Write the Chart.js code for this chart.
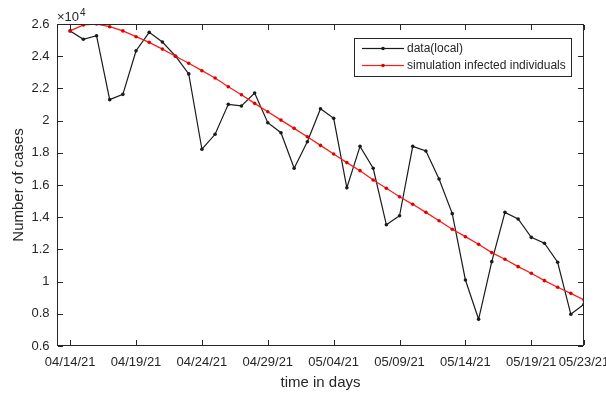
<!DOCTYPE html>
<html>
<head>
<meta charset="utf-8">
<script src="https://cdn.jsdelivr.net/npm/chart.js@4/dist/chart.umd.min.js"></script>
<style>
  html, body { margin: 0; padding: 0; background: #fff; }
  #wrap { width: 606px; height: 394px; }
</style>
</head>
<body>
<div id="wrap"><canvas id="GraficoCasos" width="606" height="394"></canvas></div>
<script>
// datos (casos diarios)
const fechas = [
  '04/14/21', '04/15/21', '04/16/21', '04/17/21', '04/18/21', '04/19/21', '04/20/21', '04/21/21',
  '04/22/21', '04/23/21', '04/24/21', '04/25/21', '04/26/21', '04/27/21', '04/28/21', '04/29/21',
  '04/30/21', '05/01/21', '05/02/21', '05/03/21', '05/04/21', '05/05/21', '05/06/21', '05/07/21',
  '05/08/21', '05/09/21', '05/10/21', '05/11/21', '05/12/21', '05/13/21', '05/14/21', '05/15/21',
  '05/16/21', '05/17/21', '05/18/21', '05/19/21', '05/20/21', '05/21/21', '05/22/21', '05/23/21'
];
const dataLocal = [
  25570, 25050, 25270, 21300, 21630, 24340, 25480, 24880, 24000, 22900,
  18220, 19150, 21010, 20910, 21710, 19870, 19250, 17040, 18690, 20740,
  20140, 15830, 18400, 17040, 13530, 14090, 18400, 18110, 16370, 14220,
  10100, 7660, 11240, 14300, 13890, 12750, 12380, 11200, 7970, 8590
];
const simInfectados = [
  25570, 25940, 26000, 25830, 25570, 25210, 24860, 24440, 24000, 23560,
  23100, 22650, 22100, 21610, 21070, 20550, 20030, 19520, 19000, 18460,
  17930, 17390, 16890, 16310, 15800, 15270, 14800, 14300, 13780, 13250,
  12790, 12320, 11800, 11390, 10930, 10520, 10060, 9650, 9270, 8860
];
const xTickDias = [0, 5, 10, 15, 20, 25, 30, 35, 39];
const yTicks = [6000, 8000, 10000, 12000, 14000, 16000, 18000, 20000, 22000, 24000, 26000];

const ejeColor = '#262626';
const fuente = "'Liberation Sans', Arial, sans-serif";

// leyenda, exponente y caja de ejes con marcas hacia adentro (estilo MATLAB)
const cajaEjes = {
  id: 'cajaEjes',
  afterDraw(chart) {
    const {ctx, chartArea: a} = chart;
    const x = chart.scales.x, y = chart.scales.y;
    ctx.save();

    // exponente x10^4
    ctx.fillStyle = ejeColor;
    ctx.textBaseline = 'alphabetic';
    ctx.textAlign = 'left';
    ctx.font = '13px ' + fuente;
    ctx.fillText('\u00d710', a.left, a.top - 3.5);
    const w = ctx.measureText('\u00d710').width;
    ctx.font = '10px ' + fuente;
    ctx.fillText('4', a.left + w + 1, a.top - 8.5);

    // leyenda dentro del area
    const bx = 354, by = 38, bw = 218, bh = 39;
    ctx.fillStyle = '#fff';
    ctx.fillRect(bx, by, bw, bh);
    ctx.fillStyle = ejeColor;
    ctx.fillRect(bx, by, bw, 1);
    ctx.fillRect(bx, by + bh - 1, bw, 1);
    ctx.fillRect(bx, by, 1, bh);
    ctx.fillRect(bx + bw - 1, by, 1, bh);
    ctx.font = '12px ' + fuente;
    ctx.textBaseline = 'middle';
    chart.data.datasets.forEach((ds, i) => {
      const yy = 48.5 + i * 17;
      ctx.fillStyle = ds.borderColor;
      ctx.fillRect(362, yy - 0.6, 42, 1.2);
      ctx.fillStyle = ds.pointBackgroundColor;
      ctx.beginPath();
      ctx.arc(383, yy, ds.pointRadius, 0, Math.PI * 2);
      ctx.fill();
      ctx.fillStyle = ejeColor;
      ctx.fillText(ds.label, 407, yy);
    });

    // caja y marcas
    const L = Math.round(a.left), R = Math.round(a.right) - 1;
    const T = Math.round(a.top), B = Math.round(a.bottom) - 1;
    const tl = 5;
    ctx.fillStyle = ejeColor;
    ctx.fillRect(L, T, R - L + 1, 1);
    ctx.fillRect(L, B, R - L + 1, 1);
    ctx.fillRect(L, T, 1, B - T + 1);
    ctx.fillRect(R, T, 1, B - T + 1);
    xTickDias.forEach(v => {
      const px = Math.round(x.getPixelForValue(v));
      ctx.fillRect(px, B - tl, 1, tl);
      ctx.fillRect(px, T + 1, 1, tl);
    });
    yTicks.forEach(v => {
      const py = Math.round(y.getPixelForValue(v));
      ctx.fillRect(L + 1, py, tl, 1);
      ctx.fillRect(R - tl, py, tl, 1);
    });
    ctx.getImageData(L, T, 1, 1); // fuerza el pintado
    ctx.restore();
  }
};

const GraficoCasos = new Chart(document.getElementById('GraficoCasos'), {
  type: 'line',
  data: {
    datasets: [{
      label: 'data(local)',
      data: dataLocal.map((v, i) => ({x: i, y: v})),
      borderColor: '#1a1a1a',
      backgroundColor: '#1a1a1a',
      pointBackgroundColor: '#1a1a1a',
      pointBorderWidth: 0,
      pointRadius: 1.8,
      borderWidth: 1.2,
      tension: 0,
      order: 1
    }, {
      label: 'simulation infected individuals',
      data: simInfectados.map((v, i) => ({x: i, y: v})),
      borderColor: '#ff1a1a',
      backgroundColor: '#ff1a1a',
      pointBackgroundColor: '#e00000',
      pointBorderWidth: 0,
      pointRadius: 1.8,
      borderWidth: 1.3,
      tension: 0,
      order: 0
    }]
  },
  options: {
    responsive: false,
    animation: false,
    devicePixelRatio: 1,
    layout: { padding: { top: 24, right: 22, left: 0, bottom: 0 } },
    plugins: { legend: { display: false }, tooltip: { enabled: false } },
    scales: {
      x: {
        type: 'linear',
        min: -1,
        max: 39,
        grid: { display: false, drawTicks: false },
        border: { display: false },
        afterBuildTicks: s => { s.ticks = xTickDias.map(v => ({value: v})); },
        afterFit: s => { s.height = 48; s.paddingLeft = 0; s.paddingRight = 0; },
        ticks: {
          autoSkip: false, maxRotation: 0, minRotation: 0, padding: 9,
          color: ejeColor, font: { family: fuente, size: 13 },
          callback: v => fechas[v]
        },
        title: {
          display: true, text: 'time in days', color: ejeColor,
          font: { family: fuente, size: 15 }, padding: { top: 0, bottom: 2 }
        }
      },
      y: {
        min: 6000,
        max: 26000,
        grid: { display: false, drawTicks: false },
        border: { display: false },
        afterBuildTicks: s => { s.ticks = yTicks.map(v => ({value: v})); },
        afterFit: s => { s.width = 57; s.paddingTop = 0; s.paddingBottom = 0; },
        ticks: {
          padding: 7.5, color: ejeColor, font: { family: fuente, size: 13 },
          callback: v => String(+(v / 1e4).toFixed(1))
        },
        title: {
          display: true, text: 'Number of cases', color: ejeColor,
          font: { family: fuente, size: 15 }, padding: { top: 9.5, bottom: 0 }
        }
      }
    }
  },
  plugins: [cajaEjes]
});
</script>
</body>
</html>
